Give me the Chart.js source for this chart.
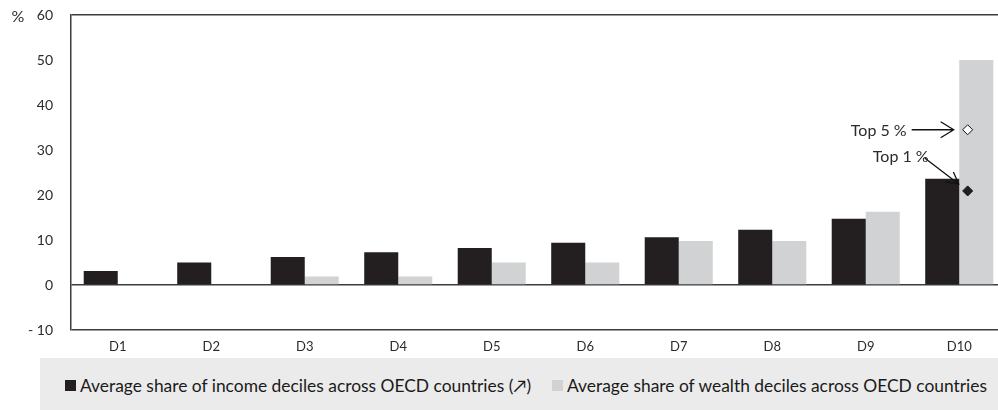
<!DOCTYPE html>
<html>
<head>
<meta charset="utf-8">
<script src="https://cdn.jsdelivr.net/npm/chart.js@4/dist/chart.umd.min.js"></script>
<style>
  html, body { margin: 0; padding: 0; overflow: hidden; background: #fff; }
  #wrap { position: relative; width: 1010px; height: 358px; }
  #legend {
    position: absolute; left: 40px; top: 358px; width: 980px; height: 52px;
    background: #ebebeb; font-family: Lato, sans-serif; font-size: 17.4px; color: #1a1a1a;
    display: flex; align-items: center; padding-left: 25px; padding-top: 2px; box-sizing: border-box;
    white-space: nowrap;
  }
  #legend .sw { display: inline-block; width: 11px; height: 11px; margin-right: 4px; }
  #legend .item { display: inline-flex; align-items: center; margin-right: 21px; }
</style>
</head>
<body>
<div id="wrap"><canvas id="chart"></canvas></div>
<div id="legend"></div>
<script>
'use strict';

// ── Data ───────────────────────────────────────────────────────────────────
const DECILES   = ['D1', 'D2', 'D3', 'D4', 'D5', 'D6', 'D7', 'D8', 'D9', 'D10'];
const INCOME    = [3.1, 5.0, 6.2, 7.3, 8.2, 9.4, 10.6, 12.3, 14.7, 23.6];
const WEALTH    = [0, 0, 1.9, 1.9, 5.0, 5.0, 9.8, 9.8, 16.3, 50.0];
const TOP_X     = [10.09, 10.09];      // position on the decile scale (D10 = 10)
const TOP_SHARE = [34.5, 20.9];        // top 5 %, top 1 % wealth share
const TOP_LABEL = ['Top 5 %', 'Top 1 %'];
const Y_TICKS   = [-10, 0, 10, 20, 30, 40, 50, 60];

const SERIES_NAMES = [
  'Average share of income deciles across OECD countries (\u2197)',
  'Average share of wealth deciles across OECD countries',
];

(function () {
  const INCOME_COLOR = '#231f20';
  const WEALTH_COLOR = '#d1d2d4';
  const FRAME_COLOR  = '#3c3c3c';
  const TEXT_COLOR   = '#2b2b2b';
  const FONT         = 'Lato, sans-serif';

  Chart.defaults.font.family = FONT;
  Chart.defaults.color = TEXT_COLOR;

  // Diamond marker, drawn with the library helper when it is exposed
  function diamond(ctx, x, y, fill) {
    const style = { pointStyle: 'rectRot', radius: 5, borderWidth: 1, rotation: 0 };
    ctx.fillStyle = fill;
    ctx.strokeStyle = '#111';
    ctx.lineWidth = 1;
    if (Chart.helpers && Chart.helpers.drawPoint) {
      Chart.helpers.drawPoint(ctx, style, x, y);
      return;
    }
    ctx.beginPath();
    ctx.moveTo(x, y - 5); ctx.lineTo(x + 5, y); ctx.lineTo(x, y + 5); ctx.lineTo(x - 5, y);
    ctx.closePath();
    ctx.fill();
    ctx.stroke();
  }

  // ── Annotation plugin: "%" unit, Top 5 / Top 1 markers and arrows ───────
  const annotations = {
    id: 'annotations',
    afterDatasetsDraw(chart) {
      const ctx = chart.ctx;
      const y = chart.scales.y;
      const xm = chart.scales.xm;
      ctx.save();
      ctx.fillStyle = TEXT_COLOR;
      ctx.font = '16px ' + FONT;
      ctx.textBaseline = 'middle';
      ctx.textAlign = 'center';
      ctx.fillText('%', 18, y.getPixelForValue(60) + 2);

      const m5 = { x: xm.getPixelForValue(TOP_X[0]), y: y.getPixelForValue(TOP_SHARE[0]) };
      const m1 = { x: xm.getPixelForValue(TOP_X[1]), y: y.getPixelForValue(TOP_SHARE[1]) };
      diamond(ctx, m5.x, m5.y, '#ffffff');
      diamond(ctx, m1.x, m1.y, INCOME_COLOR);

      ctx.strokeStyle = '#111';
      ctx.fillStyle = TEXT_COLOR;
      ctx.lineWidth = 1.3;

      // Top 5 %: horizontal arrow with open head
      const t5x = m5.x - 14, t5y = m5.y;
      ctx.beginPath();
      ctx.moveTo(t5x - 42, t5y); ctx.lineTo(t5x, t5y);
      ctx.moveTo(t5x - 13, t5y - 8); ctx.lineTo(t5x, t5y); ctx.lineTo(t5x - 13, t5y + 8);
      ctx.stroke();
      ctx.textAlign = 'right';
      ctx.fillText(TOP_LABEL[0], t5x - 47, t5y + 1);

      // Top 1 %: diagonal arrow down to the marker
      const t1x = m1.x - 9, t1y = m1.y - 7;
      const sx = t1x - 34, sy = t1y - 26;
      const ang = Math.atan2(t1y - sy, t1x - sx);
      ctx.beginPath();
      ctx.moveTo(sx, sy); ctx.lineTo(t1x, t1y);
      ctx.moveTo(t1x - 13 * Math.cos(ang - 0.5), t1y - 13 * Math.sin(ang - 0.5));
      ctx.lineTo(t1x, t1y);
      ctx.lineTo(t1x - 13 * Math.cos(ang + 0.5), t1y - 13 * Math.sin(ang + 0.5));
      ctx.stroke();
      ctx.fillText(TOP_LABEL[1], sx + 4, sy - 1);
      ctx.restore();
    },
  };

  const frameLine = function (c) {
    const v = c.tick && c.tick.value;
    return (v === 0 || v === 60 || v === -10) ? FRAME_COLOR : 'rgba(0,0,0,0)';
  };

  new Chart(document.getElementById('chart'), {
    type: 'bar',
    data: {
      labels: DECILES,
      datasets: [
        { label: SERIES_NAMES[0], data: INCOME, backgroundColor: INCOME_COLOR,
          categoryPercentage: 0.728, barPercentage: 1.0 },
        { label: SERIES_NAMES[1], data: WEALTH, backgroundColor: WEALTH_COLOR,
          categoryPercentage: 0.728, barPercentage: 1.0 },
      ],
    },
    options: {
      responsive: true,
      maintainAspectRatio: false,
      animation: false,
      layout: { padding: { left: 0, right: 4, top: 15, bottom: 0 } },
      plugins: { legend: { display: false }, tooltip: { enabled: false } },
      scales: {
        x: {
          grid: { display: false, drawTicks: false },
          border: { display: false },
          ticks: { font: { size: 13 }, color: TEXT_COLOR, padding: 9, maxRotation: 0 },
          afterFit: function (s) { s.height = 28; s.paddingLeft = 0; s.paddingRight = 0; },
        },
        xm: { type: 'linear', min: 0.5, max: 10.5, display: false, offset: false },
        y: {
          min: -10, max: 60,
          afterBuildTicks: function (s) { s.ticks = Y_TICKS.map(function (v) { return { value: v }; }); },
          grid: { color: frameLine, lineWidth: 1.5, drawTicks: false },
          border: { display: true, color: FRAME_COLOR, width: 1.5 },
          ticks: {
            font: { size: 14 }, color: TEXT_COLOR, padding: 18,
            callback: function (v) { return v < 0 ? '- ' + Math.abs(v) : String(v); },
          },
          afterFit: function (s) { s.width = 71; s.paddingTop = 0; s.paddingBottom = 0; },
        },
      },
    },
    plugins: [annotations],
  });

  // ── HTML legend ────────────────────────────────────────────────────────
  const legend = document.getElementById('legend');
  [[INCOME_COLOR, SERIES_NAMES[0]], [WEALTH_COLOR, SERIES_NAMES[1]]].forEach(function (it) {
    const item = document.createElement('span');
    item.className = 'item';
    const sw = document.createElement('span');
    sw.className = 'sw';
    sw.style.background = it[0];
    const txt = document.createElement('span');
    txt.textContent = it[1];
    item.appendChild(sw);
    item.appendChild(txt);
    legend.appendChild(item);
  });
})();
</script>
</body>
</html>
